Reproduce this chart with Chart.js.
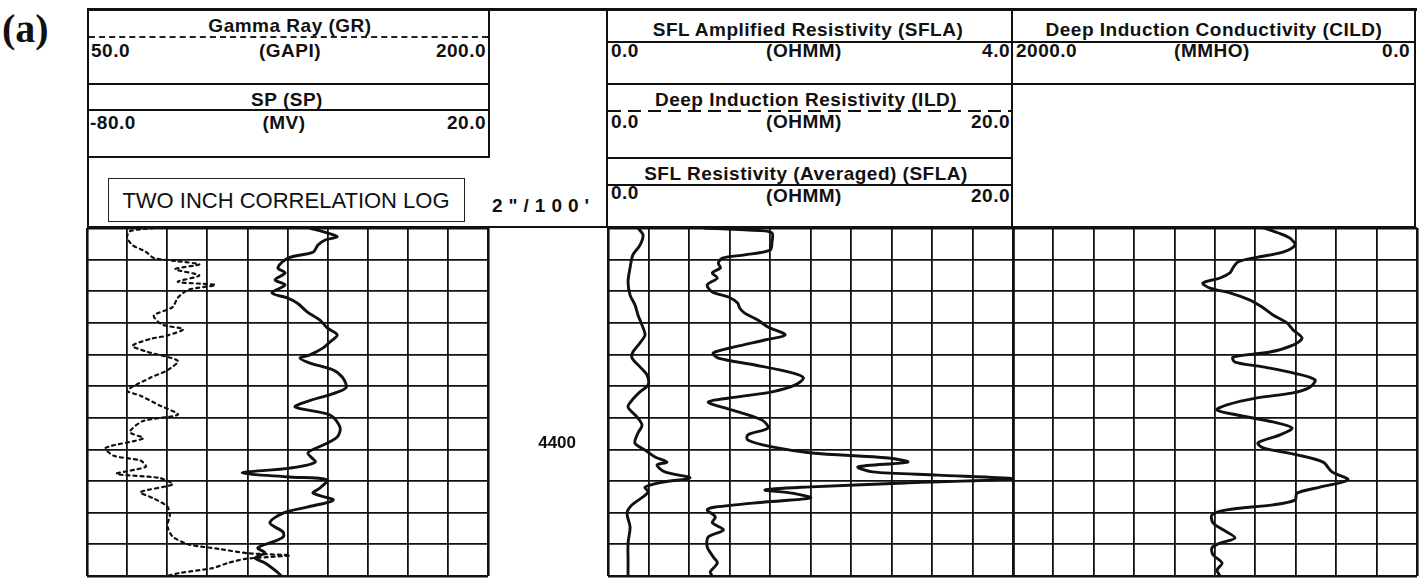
<!DOCTYPE html>
<html>
<head>
<meta charset="utf-8">
<script src="https://cdn.jsdelivr.net/npm/chart.js@4"></script>
<style>
  html, body { margin: 0; padding: 0; background: #fff; }
  #page { position: relative; width: 1425px; height: 578px; overflow: hidden; background: #fff; }
  canvas { position: absolute; }
  .ln { position: absolute; background: #111; }
  .t { position: absolute; white-space: nowrap; color: #111; font: bold 19px "Liberation Sans", Arial, sans-serif; letter-spacing: 0.5px; line-height: 1; }
  .c { transform: translate(-50%, -50%); }
  .l { transform: translateY(-50%); }
  .r { transform: translate(-100%, -50%); }
  .tag { position: absolute; left: 2px; top: 5px; font: bold 40px "Liberation Serif", "Times New Roman", serif; color: #111; }
  .box { position: absolute; left: 108px; top: 178px; width: 355px; height: 42px; border: 1.5px solid #222; }
  .dots { position: absolute; height: 0; border-top: 2px dashed #222; }
  .dash { position: absolute; height: 2px; background: repeating-linear-gradient(90deg, #111 0 13px, transparent 13px 20px); }
</style>
</head>
<body>
<div id="page">
  <div class="tag">(a)</div>

  <!-- header frame -->
  <div class="ln" style="left:87px;top:8px;width:1330px;height:3px"></div>
  <div class="ln" style="left:87px;top:8px;width:2px;height:220px"></div>
  <div class="ln" style="left:488px;top:8px;width:2px;height:150px"></div>
  <div class="ln" style="left:87px;top:83px;width:403px;height:2px"></div>
  <div class="ln" style="left:87px;top:156px;width:403px;height:2px"></div>
  <div class="ln" style="left:87px;top:109px;width:403px;height:2px"></div>
  <div class="dots" style="left:89px;top:36px;width:399px"></div>
  <div class="ln" style="left:606px;top:8px;width:2px;height:220px"></div>
  <div class="ln" style="left:1011px;top:8px;width:2px;height:220px"></div>
  <div class="ln" style="left:1414px;top:8px;width:2px;height:220px"></div>
  <div class="ln" style="left:606px;top:41px;width:407px;height:2px"></div>
  <div class="ln" style="left:606px;top:83px;width:810px;height:2px"></div>
  <div class="dash" style="left:608px;top:110px;width:405px"></div>
  <div class="ln" style="left:606px;top:157px;width:407px;height:2px"></div>
  <div class="ln" style="left:606px;top:184px;width:407px;height:2px"></div>
  <div class="ln" style="left:1011px;top:41px;width:405px;height:2px"></div>
  <div class="ln" style="left:87px;top:226px;width:1329px;height:2px"></div>
  <div class="box"></div>

  <!-- header texts -->
  <div class="t c" style="left:290px;top:25px;background:#fff;padding:0 2px">Gamma Ray (GR)</div>
  <div class="t l" style="left:91px;top:50px">50.0</div>
  <div class="t c" style="left:290px;top:50px">(GAPI)</div>
  <div class="t r" style="left:486px;top:50px">200.0</div>
  <div class="t c" style="left:287px;top:99px">SP (SP)</div>
  <div class="t l" style="left:90px;top:122px">-80.0</div>
  <div class="t c" style="left:284px;top:122px">(MV)</div>
  <div class="t r" style="left:486px;top:122px">20.0</div>
  <div class="t c" style="left:286px;top:201px;font-weight:normal;font-size:22px;letter-spacing:0">TWO INCH CORRELATION LOG</div>
  <div class="t l" style="left:492px;top:205px;letter-spacing:6px">2"/100'</div>

  <div class="t c" style="left:808px;top:29px">SFL Amplified Resistivity (SFLA)</div>
  <div class="t l" style="left:611px;top:50px">0.0</div>
  <div class="t c" style="left:804px;top:50px">(OHMM)</div>
  <div class="t r" style="left:1010px;top:50px">4.0</div>
  <div class="t c" style="left:806px;top:99px;background:#fff;padding:0 3px">Deep Induction Resistivity (ILD)</div>
  <div class="t l" style="left:611px;top:121px">0.0</div>
  <div class="t c" style="left:804px;top:121px">(OHMM)</div>
  <div class="t r" style="left:1010px;top:121px">20.0</div>
  <div class="t c" style="left:806px;top:173px">SFL Resistivity (Averaged) (SFLA)</div>
  <div class="t l" style="left:611px;top:192px">0.0</div>
  <div class="t c" style="left:804px;top:195px">(OHMM)</div>
  <div class="t r" style="left:1010px;top:195px">20.0</div>

  <div class="t c" style="left:1214px;top:29px">Deep Induction Conductivity (CILD)</div>
  <div class="t l" style="left:1016px;top:50px">2000.0</div>
  <div class="t c" style="left:1212px;top:50px">(MMHO)</div>
  <div class="t r" style="left:1410px;top:50px">0.0</div>

  <canvas id="trackLeft" width="405" height="352" style="left:85px;top:226px"></canvas>
  <canvas id="trackMid" width="529" height="352" style="left:486px;top:226px"></canvas>
  <canvas id="trackRight" width="408" height="352" style="left:1011px;top:226px"></canvas>
</div>

<script>
// depth window of the log, feet
const depthTop = 4330;
const depthBottom = 4440;
const depthLabels = [4400];

// Gamma Ray, GAPI (dotted)
const grDepth = [4330, 4331, 4333, 4335.4, 4337.5, 4339.5, 4340.5, 4341.5, 4343, 4345, 4347, 4348, 4349.5, 4352, 4355,
  4357.7, 4360.5, 4362, 4364, 4365, 4367.2, 4369, 4372, 4375, 4377.2, 4381.4, 4383, 4386, 4389, 4391, 4394.5, 4396.5,
  4399.5, 4402, 4403.5, 4405.5, 4407.7, 4409, 4411, 4413.5, 4415.5, 4418, 4421, 4424, 4427.5, 4430, 4431.5, 4432.8,
  4433.5, 4434.5, 4435.8, 4437.5, 4439, 4440];
const grGapi = [75, 66, 65, 67, 72, 75, 84, 92, 83, 92, 84, 98, 88, 84, 82,
  75, 78, 86, 80, 74, 67, 72, 84, 80, 74, 65, 70, 77, 84, 71, 66, 71,
  57, 60, 70, 72, 61, 77, 82, 70, 75, 80, 81, 80, 82, 88, 100, 110,
  126, 110, 103, 97, 85, 80];

// Spontaneous potential, MV
const spDepth = [4330, 4331.6, 4332.8, 4333.8, 4335.4, 4337.6, 4339.5, 4342.6, 4344.2, 4346.4,
  4348.0, 4350.5, 4352.1, 4353.7, 4356.5, 4359.1, 4361.6, 4363.8, 4366.0, 4367.9,
  4370.1, 4371.1, 4372.7, 4374.9, 4377.4, 4380.5, 4382.5, 4384.8, 4386.6, 4389.1,
  4393.0, 4396.1, 4398.6, 4401.1, 4404.0, 4405.9, 4407.4, 4408.7, 4409.6, 4412.2,
  4413.8, 4416.0, 4418.2, 4420.1, 4423.2, 4426.1, 4427.7, 4429.2, 4431.1, 4432.7,
  4434.3, 4435.9, 4438.7, 4440];
const spMv = [-24.4, -20.0, -17.6, -20.6, -22.4, -23.6, -29.9, -32.4, -30.6, -33.1,
  -30.6, -33.9, -30.1, -27.6, -25.1, -21.9, -20.1, -17.6, -19.4, -21.1,
  -24.4, -26.9, -24.4, -18.6, -16.2, -15.4, -19.0, -25.0, -28.1, -19.4,
  -16.9, -17.6, -21.1, -24.9, -23.1, -29.4, -41.3, -29.4, -20.1, -21.9,
  -23.6, -18.6, -25.1, -31.1, -34.4, -31.1, -31.1, -33.6, -37.4, -35.6,
  -38.1, -35.6, -32.6, -31.5];

// Deep induction resistivity, OHMM (0-20)
const ildDepth = [4330, 4332.2, 4335.4, 4338.5, 4342.6, 4347.1, 4351.2, 4354.3, 4357.5, 4360.7, 4363.8, 4366.3,
  4369.2, 4371.1, 4373.9, 4376.5, 4379.6, 4381.8, 4384.4, 4386.6, 4389.7, 4392.3, 4394.8, 4398.0, 4400.2,
  4402.4, 4404.0, 4404.9, 4407.1, 4409.0, 4410.3, 4411.9, 4413.4, 4415.0, 4417.5, 4420.1, 4424.5, 4429.6,
  4434.9, 4440];
const ildOhmm = [1.48, 1.73, 1.58, 1.23, 1.09, 0.99, 1.09, 1.33, 1.48, 1.68, 1.83, 1.58,
  1.23, 1.19, 1.58, 1.93, 1.98, 1.58, 1.19, 0.99, 1.43, 1.68, 1.48, 1.33, 1.83,
  2.32, 2.91, 2.42, 2.81, 4.05, 2.72, 1.83, 1.98, 1.73, 1.19, 0.94, 1.09, 0.99,
  0.99, 0.99];

// SFL amplified resistivity, OHMM (0-4)
const sflaDepth = [4330, 4330.8, 4331.6, 4334.4, 4337.0, 4338.5, 4339.5, 4341.1, 4342.6, 4344.2, 4345.8, 4348.0,
  4350.2, 4351.8, 4353.7, 4355.3, 4356.9, 4359.1, 4361.3, 4363.8, 4365.4, 4367.6, 4369.5, 4371.1, 4373.3,
  4375.8, 4377.4, 4379.6, 4381.8, 4383.4, 4385.0, 4387.5, 4390.7, 4393.2, 4395.4, 4397.0, 4399.2, 4401.1,
  4402.7, 4404.0, 4405.5, 4407.1, 4408.1, 4409.3, 4410.6, 4411.9, 4412.8, 4413.8, 4415.3, 4416.6, 4418.2,
  4419.1, 4421.3, 4423.2, 4425.4, 4427.7, 4430.8, 4434.0, 4435.9, 4438.7, 4440];
const sflaOhmm = [0.95, 1.5, 1.62, 1.62, 1.60, 1.35, 1.13, 1.09, 1.11, 1.03, 1.08, 0.98,
  1.03, 1.19, 1.28, 1.30, 1.35, 1.48, 1.58, 1.75, 1.55, 1.25, 1.04, 1.09, 1.45,
  1.82, 1.93, 1.85, 1.62, 1.28, 0.99, 1.22, 1.52, 1.58, 1.38, 1.38, 1.62, 2.01,
  2.77, 2.96, 2.47, 2.61, 3.26, 4.0, 2.93, 1.95, 1.55, 1.82, 2.00, 1.55, 1.06,
  0.98, 1.06, 1.03, 1.14, 0.99, 0.98, 1.04, 1.08, 1.01, 1.03];

// Deep induction conductivity, MMHO (2000 at left, 0 at right)
const cildDepth = [4330, 4331.5, 4333.2, 4335.4, 4337.6, 4339.2, 4340.7, 4342.6, 4344.2, 4345.8, 4347.4, 4349.0,
  4350.5, 4352.8, 4355.0, 4357.5, 4360.0, 4362.2, 4364.8, 4367.0, 4369.2, 4370.8, 4372.4, 4373.9, 4375.8,
  4378.0, 4380.3, 4382.1, 4383.7, 4385.9, 4387.5, 4389.1, 4391.3, 4393.2, 4395.4, 4397.9, 4399.5, 4401.7,
  4404.0, 4407.1, 4409.6, 4411.9, 4413.8, 4416.0, 4417.5, 4419.1, 4420.7, 4423.2, 4425.4, 4428.0, 4429.6,
  4431.1, 4433.3, 4435.9, 4438.1, 4440];
const cildMmho = [760, 690, 629, 604, 664, 787, 886, 911, 926, 975, 1060, 1025,
  926, 827, 767, 713, 644, 614, 569, 614, 728, 911, 901, 762, 614,
  505, 530, 614, 792, 941, 990, 891, 713, 619, 678, 787, 762, 594,
  465, 421, 342, 480, 594, 604, 713, 941, 1015, 1010, 960, 901, 975,
  1015, 1010, 965, 990, 975];

const ink = '#111';

function points(depths, values) {
  return depths.map((d, i) => ({ x: values[i], y: d }));
}

function gridWidth(ctx) {
  const last = ctx.scale.ticks.length - 1;
  return (ctx.index === 0 || ctx.index === last) ? 2.6 : 1.8;
}

function curve(depths, values, xAxisID, extra) {
  return Object.assign({
    data: points(depths, values),
    xAxisID: xAxisID,
    yAxisID: 'depth',
    showLine: true,
    borderColor: ink,
    borderWidth: 2.9,
    tension: 0.3,
    pointRadius: 0,
    borderJoinStyle: 'round',
    borderCapStyle: 'round'
  }, extra || {});
}

function gridAxis(min, max, reverse) {
  return {
    type: 'linear', position: 'bottom', min: min, max: max, reverse: !!reverse,
    ticks: { display: false, stepSize: (max - min) / 10 },
    grid: { color: ink, lineWidth: gridWidth, drawTicks: false },
    border: { display: false },
    afterFit: s => { s.height = 0; }
  };
}

function depthAxis(labelled) {
  return {
    type: 'linear', position: 'left', min: depthTop, max: depthBottom, reverse: true,
    ticks: {
      display: labelled, stepSize: 10, autoSkip: false, padding: 32, labelOffset: -6, color: ink,
      font: { family: 'Liberation Sans', size: 17, weight: 'bold' },
      callback: v => depthLabels.includes(v) ? String(v) : ''
    },
    grid: { color: ink, lineWidth: gridWidth, drawTicks: false },
    border: { display: false },
    afterFit: s => {
      // the depth column keeps a fixed width and must not shift the track vertically
      s.width = labelled ? 120 : 0;
      s.paddingTop = 0;
      s.paddingBottom = 0;
    }
  };
}

function track(id, scales, datasets) {
  return new Chart(document.getElementById(id), {
    type: 'scatter',
    data: { datasets: datasets },
    options: {
      responsive: false,
      animation: false,
      layout: { padding: 2 },
      scales: scales,
      plugins: { legend: { display: false }, tooltip: { enabled: false } }
    }
  });
}

track('trackLeft', {
  gr: gridAxis(50, 200),
  sp: Object.assign(gridAxis(-80, 20), { display: false }),
  depth: depthAxis(false)
}, [
  curve(grDepth, grGapi, 'gr', { borderWidth: 2.2, borderDash: [3, 4], tension: 0.25 }),
  curve(spDepth, spMv, 'sp')
]);

track('trackMid', {
  ild: gridAxis(0, 20),
  sfla: Object.assign(gridAxis(0, 4), { display: false }),
  depth: depthAxis(true)
}, [
  curve(ildDepth, ildOhmm, 'ild'),
  curve(sflaDepth, sflaOhmm, 'sfla')
]);

track('trackRight', {
  cild: gridAxis(0, 2000, true),
  depth: depthAxis(false)
}, [
  curve(cildDepth, cildMmho, 'cild')
]);
</script>
</body>
</html>
